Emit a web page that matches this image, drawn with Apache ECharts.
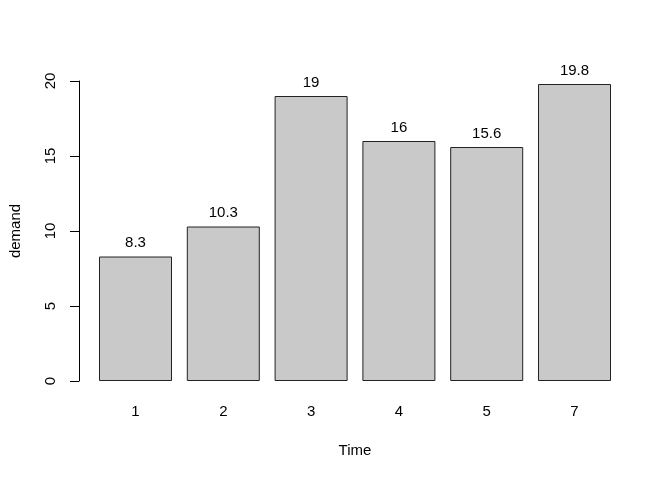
<!DOCTYPE html>
<html>
<head>
<meta charset="utf-8">
<script src="https://cdn.jsdelivr.net/npm/echarts@6/dist/echarts.min.js"></script>
<style>html,body{margin:0;padding:0;background:#fff}#c{width:672px;height:480px}</style>
</head>
<body>
<div id="c"></div>
<script>
var categories = ['1', '2', '3', '4', '5', '7'];
var demand = [8.3, 10.3, 19, 16, 15.6, 19.8];
var yTicks = [0, 5, 10, 15, 20];

var FONT = '"Liberation Sans", Arial, Helvetica, sans-serif';
var chart = echarts.init(document.getElementById('c'), null, {renderer: 'canvas'});
chart.setOption({
  animation: false,
  backgroundColor: '#ffffff',
  textStyle: {fontFamily: FONT, color: '#000'},
  grid: {left: 91.6, right: 53.6, top: 81, bottom: 99, containLabel: false},
  xAxis: {
    type: 'category',
    data: categories,
    name: 'Time',
    nameLocation: 'middle',
    nameGap: 62,
    nameTextStyle: {fontFamily: FONT, fontSize: 15, color: '#000'},
    axisLine: {show: false},
    axisTick: {show: false},
    axisLabel: {fontFamily: FONT, fontSize: 15, color: '#000', margin: 23, lineHeight: 15}
  },
  yAxis: {
    type: 'value',
    min: yTicks[0],
    max: yTicks[yTicks.length - 1],
    interval: 5,
    offset: 12.6,
    name: 'demand',
    nameLocation: 'middle',
    nameGap: 56,
    nameRotate: 90,
    nameTextStyle: {fontFamily: FONT, fontSize: 15, color: '#000'},
    splitLine: {show: false},
    axisLine: {show: true, lineStyle: {color: '#000', width: 1}},
    axisTick: {show: true, length: 9, lineStyle: {color: '#000', width: 1}},
    axisLabel: {fontFamily: FONT, fontSize: 15, color: '#000', rotate: 90, margin: 21, lineHeight: 15}
  },
  series: [{
    type: 'bar',
    data: demand,
    barWidth: 73,
    itemStyle: {color: '#C9C9C9', borderColor: '#222', borderWidth: 1},
    label: {
      show: true,
      position: 'top',
      distance: 6,
      fontFamily: FONT,
      fontSize: 15,
      lineHeight: 15,
      color: '#000'
    }
  }]
});
</script>
</body>
</html>
